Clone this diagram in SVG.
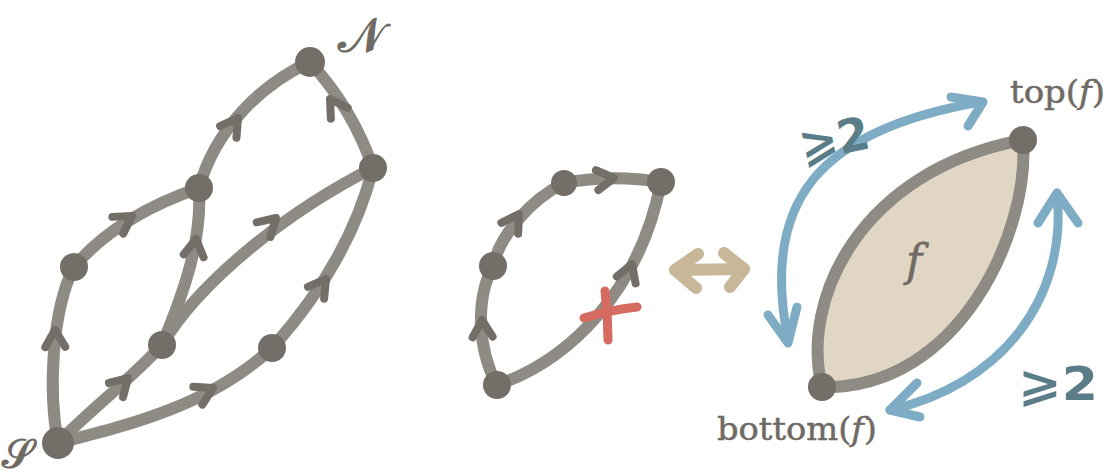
<svg xmlns="http://www.w3.org/2000/svg" width="1110" height="473" viewBox="0 0 1110 473">
<defs>
<style>
.e{fill:none;stroke:#8e8a84;stroke-width:12;stroke-linecap:round}
.n{fill:#736e68}
.h{fill:none;stroke:#736e68;stroke-width:8;stroke-linecap:round;stroke-linejoin:round}
.b{fill:none;stroke:#7eacc5;stroke-width:9;stroke-linecap:round;stroke-linejoin:round}
.t{font-family:"DejaVu Serif","Liberation Serif",serif;fill:#6f6a64;font-size:31px;stroke:#6f6a64;stroke-width:0.5}
.s{font-family:"DejaVu Serif","Liberation Serif",serif;fill:#6f6a64;font-size:48px;stroke:#6f6a64;stroke-width:1.2}
.g{font-family:"DejaVu Sans","Noto Sans",sans-serif;font-weight:bold;fill:#5b7d88;font-size:46px}
</style>
<path id="chev" d="M-17,-10 L0,0 L-17,10"/>
</defs>
<rect width="1110" height="473" fill="#ffffff"/>
<g id="connectors">
<path class="e" d="M58,443 C48,390 52,310 74,267"/>
<path class="e" d="M74,267 C105,230 150,205 199,188"/>
<path class="e" d="M199,188 C215,130 260,85 310,62"/>
<path class="e" d="M373,168 C360,130 340,95 310,62"/>
<path class="e" d="M58,443 C90,410 130,380 162,345"/>
<path class="e" d="M162,345 C185,290 202,240 199,188"/>
<path class="e" d="M162,345 C200,280 290,210 373,168"/>
<path class="e" d="M58,443 C130,425 210,405 272,348"/>
<path class="e" d="M272,348 C315,300 355,240 373,168"/>
<g class="h">
<use href="#chev" transform="translate(55,330) rotate(-91)"/>
<use href="#chev" transform="translate(132,216) rotate(-33)"/>
<use href="#chev" transform="translate(238,118) rotate(-55)"/>
<use href="#chev" transform="translate(330,99) rotate(-123)"/>
<use href="#chev" transform="translate(196,239) rotate(-82)"/>
<use href="#chev" transform="translate(276,218) rotate(-43)"/>
<use href="#chev" transform="translate(128,378) rotate(-45)"/>
<use href="#chev" transform="translate(213,388) rotate(-27)"/>
<use href="#chev" transform="translate(326,279) rotate(-54)"/>
</g>
<path class="e" d="M497,385 C478,350 475,300 493,266"/>
<path class="e" d="M493,266 C500,235 530,200 564,183"/>
<path class="e" d="M564,183 Q612,174 661,182"/>
<path class="e" d="M497,385 C570,360 640,290 661,182"/>
<g class="h">
<use href="#chev" transform="translate(482,320) rotate(-92)"/>
<use href="#chev" transform="translate(519,214) rotate(-57)"/>
<use href="#chev" transform="translate(614,178) rotate(-7)"/>
<use href="#chev" transform="translate(632,264) rotate(-70)"/>
</g>
<g id="cross" fill="none" stroke="#d66b62" stroke-width="9" stroke-linecap="round">
<path d="M584,318 Q610,310 637,307"/>
<path d="M605,291 Q608,315 608,340"/>
</g>
<g id="equiv" fill="none" stroke="#c9b799" stroke-width="12" stroke-linecap="round" stroke-linejoin="round">
<path d="M675,270 L744,269"/>
<path d="M698,254 L675,270 L696,288"/>
<path d="M724,253 L744,269 L730,287"/>
</g>
<path class="b" d="M788,340 C760,200 820,130 980,102"/>
<path class="b" d="M768,315 L788,343 L797,307"/>
<path class="b" d="M951,97 L983,102 L968,126"/>
<path class="b" d="M890,410 C1000,385 1068,300 1057,193"/>
<path class="b" d="M917,383 L890,410 L920,417"/>
<path class="b" d="M1038,223 L1057,193 L1078,223"/>
</g>
<g id="face">
<path d="M822,387 C800,300 860,170 1023,140 C1030,230 960,390 822,387 Z" fill="#e1d6c3" stroke="#8e8a84" stroke-width="12" stroke-linejoin="round"/>
<text x="906" y="276" class="t" style="font-style:italic;font-size:44px">f</text>
</g>
<g id="node-S"><circle class="n" cx="58" cy="443" r="16"/><text x="2" y="468" class="s" style="font-size:40px">𝒮</text></g>
<g id="node-N"><circle class="n" cx="310" cy="62" r="15"/><text x="338" y="52" class="s">𝒩</text></g>
<g id="node-R"><circle class="n" cx="373" cy="168" r="14"/></g>
<g id="node-A"><circle class="n" cx="199" cy="188" r="14"/></g>
<g id="node-B"><circle class="n" cx="74" cy="267" r="14"/></g>
<g id="node-C"><circle class="n" cx="162" cy="345" r="14"/></g>
<g id="node-D"><circle class="n" cx="272" cy="348" r="14"/></g>
<g id="node-m1"><circle class="n" cx="564" cy="183" r="13"/></g>
<g id="node-m2"><circle class="n" cx="661" cy="182" r="14"/></g>
<g id="node-m3"><circle class="n" cx="493" cy="266" r="14"/></g>
<g id="node-m4"><circle class="n" cx="497" cy="385" r="14"/></g>
<g id="node-top"><circle class="n" cx="1023" cy="140" r="14"/><text x="1010" y="103" class="t" textLength="95" lengthAdjust="spacingAndGlyphs">top(<tspan font-style="italic">f</tspan>)</text></g>
<g id="node-bottom"><circle class="n" cx="822" cy="387" r="14"/><text x="717" y="440" class="t" textLength="160" lengthAdjust="spacingAndGlyphs">bottom(<tspan font-style="italic">f</tspan>)</text></g>
<g id="label-upper"><text x="798" y="156" class="g" transform="rotate(-12 830 135)">⩾2</text></g>
<g id="label-lower"><text x="1018" y="400" class="g" textLength="80" lengthAdjust="spacingAndGlyphs">⩾2</text></g>
</svg>
